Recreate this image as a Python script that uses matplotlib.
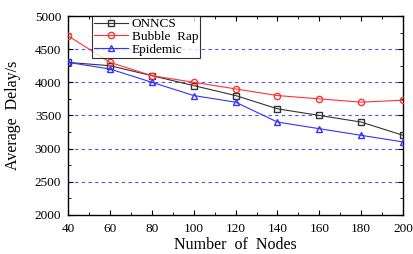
import matplotlib
matplotlib.use("Agg")
import matplotlib.pyplot as plt
from matplotlib.ticker import MultipleLocator

# Datos
nodos = [40, 60, 80, 100, 120, 140, 160, 180, 200]
onncs = [4300, 4250, 4100, 3950, 3800, 3600, 3500, 3400, 3200]
bubble_rap = [4700, 4300, 4100, 4000, 3900, 3800, 3750, 3700, 3730]
epidemic = [4300, 4200, 4000, 3800, 3700, 3400, 3300, 3200, 3100]

plt.rcParams["font.family"] = ["Liberation Serif", "DejaVu Serif"]

fig = plt.figure(figsize=(4.13, 2.54), dpi=100)
ax = fig.add_axes([0.165, 0.154, 0.811, 0.783])

# Lineas horizontales discontinuas
for y in [2500, 3000, 3500, 4000, 4500]:
    ax.axhline(y, color="#4d4dff", linestyle=(0, (3, 3)), linewidth=0.8, zorder=1)

ax.plot(nodos, onncs, color="#333333", marker="s", markersize=4,
        markerfacecolor="none", linewidth=0.8, label="ONNCS", zorder=3)
ax.plot(nodos, bubble_rap, color="#ff3333", marker="o", markersize=4.5,
        markerfacecolor="none", linewidth=0.8, label="Bubble  Rap", zorder=3)
ax.plot(nodos, epidemic, color="#3333ff", marker="^", markersize=4.5,
        markerfacecolor="none", linewidth=0.8, label="Epidemic", zorder=3)

ax.set_xlim(40, 200)
ax.set_ylim(2000, 5000)
ax.xaxis.set_major_locator(MultipleLocator(20))
ax.xaxis.set_minor_locator(MultipleLocator(10))
ax.yaxis.set_major_locator(MultipleLocator(500))
ax.yaxis.set_minor_locator(MultipleLocator(250))
ax.tick_params(which="both", direction="in", top=True, right=True, labelsize=9.5)
ax.tick_params(axis="x", pad=6)
ax.tick_params(axis="y", pad=5)
ax.tick_params(which="major", length=3.5)
ax.tick_params(which="minor", length=2)
for s in ax.spines.values():
    s.set_linewidth(1.0)

ax.set_xlabel("Number  of  Nodes", fontsize=11.5, labelpad=1)
ax.set_ylabel("Average  Delay/s", fontsize=11.5, labelpad=10)

leg = ax.legend(loc="upper left", bbox_to_anchor=(0.07, 1.0), fontsize=9.5,
                frameon=True, fancybox=False, edgecolor="black",
                borderpad=0.15, labelspacing=0.05, handlelength=2.6,
                handletextpad=0.3, borderaxespad=0)
leg.get_frame().set_linewidth(0.8)

fig.savefig("out.png", dpi=100)
